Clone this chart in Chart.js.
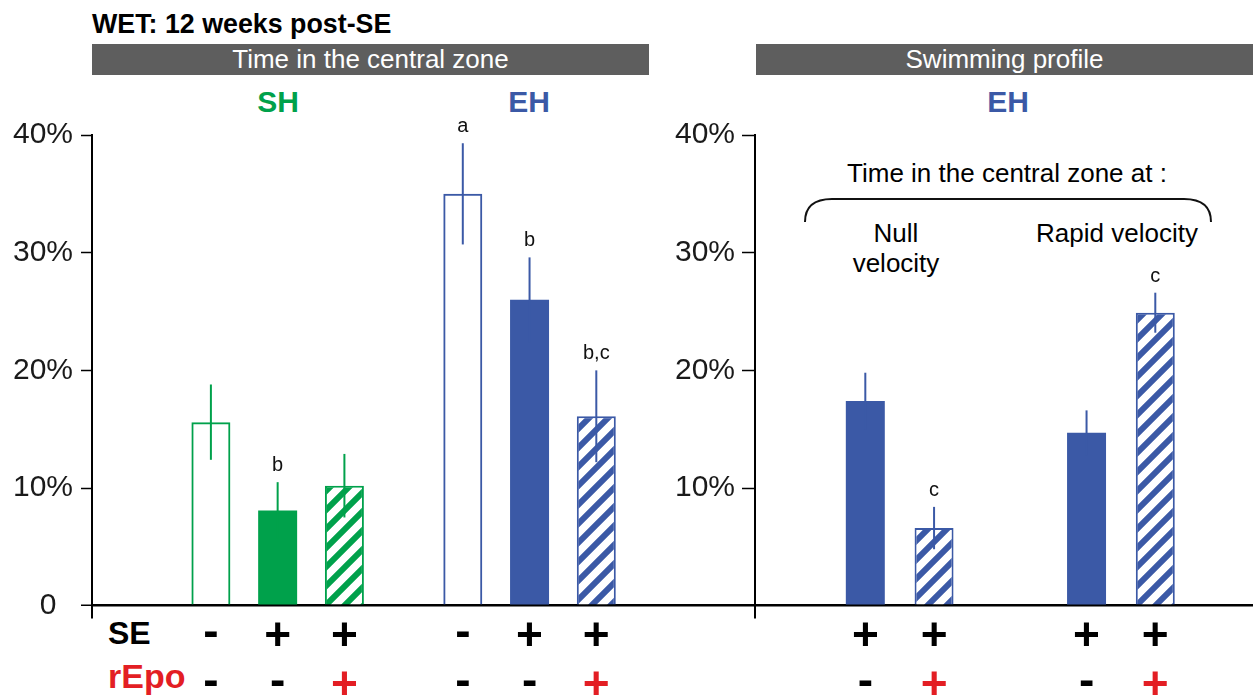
<!DOCTYPE html>
<html><head><meta charset="utf-8">
<script src="https://cdn.jsdelivr.net/npm/chart.js@4"></script>
<style>
body{margin:0;background:#fff;}
#wrap{position:relative;width:1253px;height:700px;background:#fff;overflow:hidden;font-family:'Liberation Sans',Arial,sans-serif;color:#000;}
.abs{position:absolute;white-space:nowrap;}
.gbar{position:absolute;top:44px;height:31px;line-height:31px;background:#5e5e5e;color:#fff;font-size:26px;text-align:center;}
canvas{position:absolute;top:0;}
</style></head><body>
<div id="wrap">
  <div class="abs" style="left:92px;top:8px;font-weight:bold;font-size:26.8px;line-height:32px;">WET: 12 weeks post-SE</div>
  <div class="gbar" style="left:92px;width:557px;">Time in the central zone</div>
  <div class="gbar" style="left:756px;width:497px;">Swimming profile</div>
  <div class="abs" style="left:228px;width:100px;text-align:center;top:84px;line-height:36px;font-size:30px;font-weight:bold;color:#00a14b;">SH</div>
  <div class="abs" style="left:479px;width:100px;text-align:center;top:84px;line-height:36px;font-size:30px;font-weight:bold;color:#3b59a6;">EH</div>
  <div class="abs" style="left:958px;width:100px;text-align:center;top:84px;line-height:36px;font-size:30px;font-weight:bold;color:#3b59a6;">EH</div>
  <div class="abs" style="left:807px;width:400px;text-align:center;top:157px;line-height:32px;font-size:26px;">Time in the central zone at :</div>
  <div class="abs" style="left:796px;width:200px;text-align:center;top:218px;line-height:30px;font-size:26px;">Null<br>velocity</div>
  <div class="abs" style="left:1017px;width:200px;text-align:center;top:218px;line-height:30px;font-size:26px;">Rapid velocity</div>
  <svg class="abs" style="left:0;top:0" width="1253" height="700"><path d="M805 222 Q805 199 832 199 L1184 199 Q1211 199 1211 222" fill="none" stroke="#111" stroke-width="2"/></svg>
  <div class="abs" style="left:108px;top:615px;line-height:36px;font-size:32px;font-weight:bold;">SE</div>
  <div class="abs" style="left:108px;top:658px;line-height:36px;font-size:34px;font-weight:bold;color:#e31e24;">rEpo</div>
  <canvas id="c1" width="760" height="700" style="left:0px"></canvas>
  <canvas id="c2" width="613" height="700" style="left:640px"></canvas>
</div>
<script>
// ---------- data ----------
const groupsLeft = ['SH', 'EH'];
const ctrlMean = [15.6, 35.0];
const ctrlErr  = [3.2, 4.3];
const seMean   = [8.1, 26.0];
const seErr    = [2.4, 3.6];
const seEpoMean = [10.2, 16.1];
const seEpoErr  = [2.7, 3.9];
const ctrlSig  = ['', 'a'];
const seSig    = ['b', 'b'];
const seEpoSig = ['', 'b,c'];

const groupsRight = ['Null velocity', 'Rapid velocity'];
const ehSeMean    = [17.4, 14.7];
const ehSeErr     = [2.4, 1.9];
const ehSeEpoMean = [6.6, 24.9];
const ehSeEpoErr  = [1.8, 1.7];
const ehSeSig     = ['', ''];
const ehSeEpoSig  = ['c', 'c'];

const yTicks = [0, 10, 20, 30, 40];
// treatment rows: [SE, rEpo]
const ctrlRow  = ['-', '-'];
const seRow    = ['+', '-'];
const seEpoRow = ['+', '+'];

// ---------- styles ----------
const GREEN = '#00a14b', BLUE = '#3b59a6', RED = '#e31e24';
const FONT = '"Liberation Sans", Arial, sans-serif';

function hatch(color) {
  const P = 19, c = document.createElement('canvas');
  c.width = P; c.height = P;
  const g = c.getContext('2d');
  g.fillStyle = '#fff'; g.fillRect(0, 0, P, P);
  g.strokeStyle = color; g.lineWidth = 6;
  g.beginPath();
  g.moveTo(-P, P); g.lineTo(P, -P);
  g.moveTo(0, P); g.lineTo(P, 0);
  g.moveTo(0, 2 * P); g.lineTo(2 * P, 0);
  g.stroke();
  return g.createPattern(c, 'repeat');
}

function mk(label, means, errs, sigs, colors, kind, row) {
  return {
    label,
    data: means.map((m, i) => ({ x: i, y: m })),
    err: errs, sig: sigs, row, lineColor: colors,
    backgroundColor: kind === 'open' ? 'rgba(0,0,0,0)' : kind === 'filled' ? colors : colors.map(hatch),
    borderColor: colors,
    borderWidth: kind === 'filled' ? 0 : 2
  };
}

function drawSign(ctx, s, x, cy, color) {
  const F = 46;
  ctx.fillStyle = color;
  ctx.textAlign = 'center';
  ctx.textBaseline = 'alphabetic';
  ctx.font = 'bold ' + F + 'px ' + FONT;
  ctx.fillText(s, x, cy + (s === '+' ? 0.35 : 0.26) * F);
}

const annot = {
  id: 'annot',
  afterDatasetsDraw(chart) {
    const ctx = chart.ctx, y = chart.scales.y, bottom = chart.chartArea.bottom;
    chart.data.datasets.forEach((ds, i) => {
      chart.getDatasetMeta(i).data.forEach((bar, j) => {
        const v = ds.data[j].y, e = ds.err[j];
        const top = y.getPixelForValue(v + e), bot = y.getPixelForValue(v - e);
        ctx.save();
        ctx.strokeStyle = ds.lineColor[j]; ctx.lineWidth = 2;
        ctx.beginPath(); ctx.moveTo(bar.x, bot); ctx.lineTo(bar.x, top); ctx.stroke();
        if (ds.sig[j]) {
          ctx.fillStyle = '#111'; ctx.font = '20px ' + FONT;
          ctx.textAlign = 'center'; ctx.textBaseline = 'alphabetic';
          ctx.fillText(ds.sig[j], bar.x, top - 11);
        }
        drawSign(ctx, ds.row[0], bar.x, bottom + 16.5, '#000');
        drawSign(ctx, ds.row[1], bar.x, bottom + 65.5, ds.row[1] === '+' ? RED : '#000');
        ctx.restore();
      });
    });
  }
};

function yScale(width, tickLen, pad, zeroLabel) {
  return {
    min: -1, max: 40,
    afterBuildTicks: s => { s.ticks = yTicks.map(v => ({ value: v })); },
    afterFit: s => { s.width = width; },
    ticks: {
      font: { family: FONT, size: 30 }, color: '#1a1a1a', padding: pad,
      callback: v => v === 0 ? zeroLabel : v + '%'
    },
    grid: {
      color: c => (c.tick && c.tick.value === 0) ? '#000' : 'rgba(0,0,0,0)',
      lineWidth: c => (c.tick && c.tick.value === 0) ? 2.5 : 1,
      tickColor: '#000', tickLength: tickLen, tickWidth: 1.5
    },
    border: { display: true, color: '#000', width: 2 }
  };
}

function xScale(groups, min, max) {
  return {
    type: 'linear', display: false, offset: false, min, max,
    afterBuildTicks: s => { s.ticks = groups.map((g, i) => ({ value: i })); }
  };
}

const common = {
  responsive: false, animation: false,
  plugins: { legend: { display: false }, tooltip: { enabled: false } }
};

new Chart(document.getElementById('c1'), {
  type: 'bar',
  data: {
    datasets: [
      mk('Control', ctrlMean, ctrlErr, ctrlSig, [GREEN, BLUE], 'open', ctrlRow),
      mk('SE', seMean, seErr, seSig, [GREEN, BLUE], 'filled', seRow),
      mk('SE + rEpo', seEpoMean, seEpoErr, seEpoSig, [GREEN, BLUE], 'hatch', seEpoRow)
    ]
  },
  options: Object.assign({}, common, {
    layout: { padding: { left: 0, right: 5, top: 135, bottom: 82.5 } },
    datasets: { bar: { categoryPercentage: 0.795, barPercentage: 0.584 } },
    scales: { x: xScale(groupsLeft, -0.737, 1.895), y: yScale(92, 11, 8, '0  ') }
  }),
  plugins: [annot]
});

new Chart(document.getElementById('c2'), {
  type: 'bar',
  data: {
    datasets: [
      mk('SE', ehSeMean, ehSeErr, ehSeSig, [BLUE, BLUE], 'filled', seRow),
      mk('SE + rEpo', ehSeEpoMean, ehSeEpoErr, ehSeEpoSig, [BLUE, BLUE], 'hatch', seEpoRow)
    ]
  },
  options: Object.assign({}, common, {
    layout: { padding: { left: 0, right: 0, top: 135, bottom: 82.5 } },
    datasets: { bar: { categoryPercentage: 0.6215, barPercentage: 0.567 } },
    scales: { x: xScale(groupsRight, -0.654, 1.597), y: yScale(115, 13, 7, '') }
  }),
  plugins: [annot]
});
</script>
</body></html>
